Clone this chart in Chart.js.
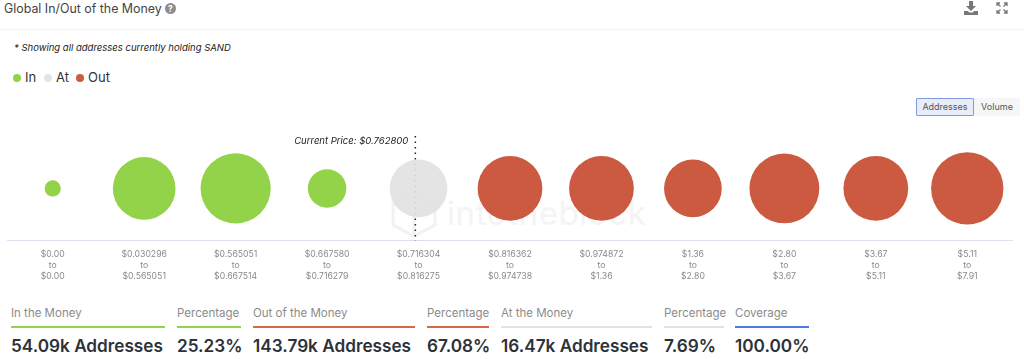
<!DOCTYPE html>
<html>
<head>
<meta charset="utf-8">
<title>Global In/Out of the Money</title>
<script src="https://cdn.jsdelivr.net/npm/chart.js@4"></script>
<style>
    html, body { margin: 0; padding: 0; background: #fff; }
    body { width: 1024px; height: 359px; position: relative; overflow: hidden; font-family: Inter, "Noto Sans", sans-serif; }
    .abs { position: absolute; white-space: nowrap; }
    #chart { position: absolute; left: 7px; top: 136px; }
    .title { left: 4px; top: 1px; font-size: 12.4px; line-height: 15px; color: #444; }
    .divider { left: 0; top: 29px; width: 1024px; height: 1px; background: #f3f3f3; }
    .note { left: 14px; top: 41px; font-size: 9.5px; line-height: 13px; font-style: italic; color: #222; }
    .legend { top: 70px; font-size: 13px; line-height: 15px; color: #333; }
    .dot { width: 8px; height: 8px; border-radius: 50%; top: 74px; }
    .btn { top: 98px; height: 18px; line-height: 18px; font-size: 9px; color: #555; text-align: center; box-sizing: border-box; }
    .watermark { left: 447px; top: 194px; font-size: 33px; line-height: 38px; color: #f4f4f6; letter-spacing: 0.6px; }
    .statLabel { top: 306px; font-size: 11.5px; line-height: 14px; color: #8b8b8b; }
    .statLine { top: 326px; height: 2px; }
    .statValue { top: 335px; font-size: 17.2px; line-height: 21px; font-weight: 600; color: #2c3238; }
</style>
</head>
<body>
<div class="abs title">Global In/Out of the Money</div>
<svg class="abs" style="left:165px;top:3px" width="11" height="11" viewBox="0 0 11 11">
    <circle cx="5.5" cy="5.5" r="5.5" fill="#8c8c8c"/>
    <text x="5.5" y="8.6" font-size="8.5" font-weight="700" text-anchor="middle" fill="#fff" font-family="Inter">?</text>
</svg>
<svg class="abs" style="left:964px;top:1px" width="14" height="14" viewBox="0 0 14 14" fill="#777">
    <path d="M5 0h4v5h3L7 10 2 5h3z"/><path d="M0 10h4l1 1.500h4l1-1.500h4v4H0z"/>
</svg>
<svg class="abs" style="left:996px;top:2px" width="12" height="12" viewBox="0 0 12 12" fill="none" stroke="#777" stroke-width="1.300">
    <path d="M1 4V1h3M8 1h3v3M11 8v3H8M4 11H1V8M1 1l3.500 3.500M11 1L7.500 4.500M11 11L7.500 7.500M1 11l3.500-3.500"/>
</svg>
<div class="abs divider"></div>
<div class="abs note">* Showing all addresses currently holding SAND</div>

<div class="abs dot" style="left:13px;background:#92d34a"></div>
<div class="abs legend" style="left:25px">In</div>
<div class="abs dot" style="left:44px;background:#e4e4e4"></div>
<div class="abs legend" style="left:56px">At</div>
<div class="abs dot" style="left:76px;background:#cb5a40"></div>
<div class="abs legend" style="left:88px">Out</div>

<div class="abs btn" style="left:916px;width:58px;background:#e9edf9;border:1px solid #7f9be0;line-height:16px;border-radius:1px">Addresses</div>
<div class="abs btn" style="left:974px;width:46px;background:#f6f6f6">Volume</div>

<svg class="abs" style="left:391px;top:190px" width="46" height="48" viewBox="0 0 46 48" fill="none" stroke="#f2f2f4" stroke-width="3">
    <path d="M23 2L44 13V35L23 46L2 35V13zM2 13L23 25L44 13M23 25V46"/>
</svg>
<div class="abs watermark">intotheblock</div>

<canvas id="chart" width="1006" height="146"></canvas>
<div id="stats"></div>

<script>
const $ = id => document.getElementById(id);

const rangeFrom = ['$0.00', '$0.030296', '$0.565051', '$0.667580', '$0.716304', '$0.816362', '$0.974872', '$1.36', '$2.80', '$3.67', '$5.11'];
const rangeTo = ['$0.00', '$0.565051', '$0.667514', '$0.716279', '$0.816275', '$0.974738', '$1.36', '$2.80', '$3.67', '$5.11', '$7.91'];
// thousands of addresses
const addresses = [1.4, 21.0, 26.3, 7.9, 17.8, 22.4, 22.4, 17.8, 26.1, 22.4, 28.0];
const zones = ['in', 'in', 'in', 'in', 'at', 'out', 'out', 'out', 'out', 'out', 'out'];

const priceIndex = 3.965; // 0.7628 inside the 0.716304 - 0.816275 bucket
const priceLabel = 'Current Price: $0.762800';

const statNames = ['In the Money', 'Percentage', 'Out of the Money', 'Percentage', 'At the Money', 'Percentage', 'Coverage'];
const statValues = ['54.09k Addresses', '25.23%', '143.79k Addresses', '67.08%', '16.47k Addresses', '7.69%', '100.00%'];

const zoneColors = {in: '#92d34a', at: 'rgba(226,226,226,0.92)', out: '#cb5a40'};
const statLeft = [11, 177, 253, 427, 501, 664, 735];
const statRight = [165, 241, 415, 489, 652, 724, 809];
const statColors = ['#92d34a', '#92d34a', '#d9654a', '#d9654a', '#e2e2e2', '#e2e2e2', '#4f7be0'];

statNames.forEach((name, i) => {
    $('stats').innerHTML += `
        <div class="abs statLabel" style="left:${statLeft[i]}px">${name}</div>
        <div class="abs statLine" style="left:${statLeft[i]}px;width:${statRight[i] - statLeft[i]}px;background:${statColors[i]}"></div>
        <div class="abs statValue" style="left:${statLeft[i]}px">${statValues[i]}</div>`;
});

// dotted price line goes under the bubbles, its label stays beside it
const priceLine = {
    id: 'priceLine',
    beforeDatasetsDraw(chart) {
        const {ctx, chartArea, scales} = chart;
        const x = scales.x.getPixelForValue(priceIndex);
        ctx.save();
        ctx.strokeStyle = '#222';
        ctx.lineWidth = 1.5;
        ctx.setLineDash([1.5, 4]);
        ctx.beginPath();
        ctx.moveTo(x, chartArea.top);
        ctx.lineTo(x, chartArea.bottom);
        ctx.stroke();
        ctx.setLineDash([]);
        ctx.fillStyle = '#222';
        ctx.font = 'italic 9.5px Inter';
        ctx.textAlign = 'right';
        ctx.textBaseline = 'middle';
        ctx.fillText(priceLabel, x - 7, chartArea.top + 5);
        ctx.restore();
    }
};

new Chart($('chart').getContext('2d'), {
    type: 'bubble',
    data: {
        labels: rangeFrom.map((from, i) => [from, 'to', rangeTo[i]]),
        datasets: [{
            data: addresses.map((v, i) => ({x: i, y: 1, v: v})),
            backgroundColor: zones.map(z => zoneColors[z]),
            borderWidth: 0,
            clip: false,
            radius: c => Math.sqrt(c.raw.v) * 6.84
        }]
    },
    options: {
        responsive: false,
        animation: false,
        events: [],
        layout: {padding: 0, autoPadding: false},
        plugins: {legend: {display: false}, tooltip: {enabled: false}},
        scales: {
            x: {
                type: 'category',
                offset: true,
                grid: {display: false},
                border: {color: '#dde0f2'},
                ticks: {
                    autoSkip: false,
                    maxRotation: 0,
                    padding: 0,
                    color: '#8a8a8a',
                    font: {family: 'Inter', size: 8.7, lineHeight: 1.27}
                }
            },
            y: {display: false, min: 0, max: 2}
        }
    },
    plugins: [priceLine]
});
</script>
</body>
</html>
